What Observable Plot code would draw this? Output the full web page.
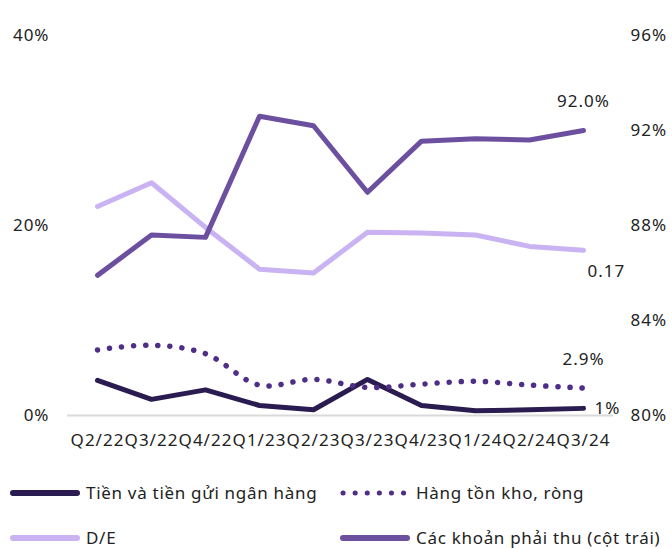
<!DOCTYPE html>
<html>
<head>
<meta charset="utf-8">
<script src="https://cdn.jsdelivr.net/npm/d3@7"></script>
<script src="https://cdn.jsdelivr.net/npm/@observablehq/plot@0.6"></script>
<style>
  html, body { margin: 0; padding: 0; background: #fff; }
  #wrap { position: relative; width: 672px; height: 549px; overflow: hidden; font-family: "Noto Sans", sans-serif; color: #222; }
  .leg { position: absolute; display: flex; align-items: center; font-size: 17px; line-height: 18px; letter-spacing: 0.7px; white-space: nowrap; }
  .leg svg { margin-right: 4px; }
</style>
</head>
<body>
<div id="wrap"></div>
<script>
const quarters = ["Q2/22","Q3/22","Q4/22","Q1/23","Q2/23","Q3/23","Q4/23","Q1/24","Q2/24","Q3/24"];
const cash = [3.7, 1.7, 2.7, 1.05, 0.6, 3.8, 1.05, 0.5, 0.6, 0.75];
const inventory = [6.9, 7.4, 6.5, 3.2, 3.8, 2.95, 3.3, 3.6, 3.2, 2.9];
const debtToEquity = [0.22, 0.245, 0.198, 0.154, 0.15, 0.193, 0.192, 0.19, 0.178, 0.174];
const receivables = [85.9, 87.6, 87.5, 92.6, 92.2, 89.4, 91.55, 91.65, 91.6, 92.0];
const leftTicks = [0, 20, 40];
const rightTicks = [80, 84, 88, 92, 96];
const seriesNames = ["Tiền và tiền gửi ngân hàng", "Hàng tồn kho, ròng", "D/E", "Các khoản phải thu (cột trái)"];
const labels = { receivables: "92.0%", de: "0.17", inventory: "2.9%", cash: "1%" };

const colors = { cash: "#2a1b50", inventory: "#4f2e88", de: "#c9b3f2", receivables: "#6c509f" };

const rows = quarters.map((q, i) => ({
  q, cash: cash[i], inventory: inventory[i], de: debtToEquity[i] * 100, rec: (receivables[i] - 80) * 2.5
}));
const last = [rows[rows.length - 1]];

const chart = Plot.plot({
  width: 672,
  height: 460,
  marginTop: 35,
  marginBottom: 45,
  marginLeft: 67,
  marginRight: 59,
  style: { fontSize: "17px", fontFamily: "Noto Sans, sans-serif", color: "#222", background: "#fff", letterSpacing: "1px" },
  x: { type: "point", domain: quarters, padding: 0.5 },
  y: { domain: [0, 40] },
  marks: [
    Plot.ruleY([0], { stroke: "#d9d9d9", strokeWidth: 2 }),
    Plot.axisY(leftTicks, { anchor: "left", tickSize: 0, tickPadding: 18, tickFormat: d => d + "%", label: null }),
    Plot.axisY(rightTicks.map(v => (v - 80) * 2.5), { anchor: "right", tickSize: 0, tickPadding: 17, tickFormat: d => Math.round(80 + d / 2.5) + "%", label: null }),
    Plot.axisX({ tickSize: 0, tickPadding: 18, label: null }),
    Plot.lineY(rows, { x: "q", y: "de", stroke: colors.de, strokeWidth: 5, strokeLinecap: "round" }),
    Plot.lineY(rows, { x: "q", y: "rec", stroke: colors.receivables, strokeWidth: 5, strokeLinecap: "round" }),
    Plot.lineY(rows, { x: "q", y: "cash", stroke: colors.cash, strokeWidth: 5, strokeLinecap: "round" }),
    Plot.lineY(rows, { x: "q", y: "inventory", stroke: colors.inventory, strokeWidth: 5.5, strokeLinecap: "round", strokeDasharray: "0.1 12", curve: "catmull-rom" }),
    Plot.text(last, { x: "q", y: "rec", text: () => labels.receivables, dy: -29 }),
    Plot.text(last, { x: "q", y: "de", text: () => labels.de, dy: 21, dx: 4, textAnchor: "start" }),
    Plot.text(last, { x: "q", y: "inventory", text: () => labels.inventory, dy: -28 }),
    Plot.text(last, { x: "q", y: "cash", text: () => labels.cash, dx: 11, textAnchor: "start" })
  ]
});

const wrap = document.getElementById("wrap");
wrap.appendChild(chart);

const legendItems = [
  { name: seriesNames[0], color: colors.cash, dotted: false, x: 8, y: 493 },
  { name: seriesNames[1], color: colors.inventory, dotted: true, x: 338, y: 493 },
  { name: seriesNames[2], color: colors.de, dotted: false, x: 8, y: 538 },
  { name: seriesNames[3], color: colors.receivables, dotted: false, x: 338, y: 538 }
];
for (const it of legendItems) {
  const div = document.createElement("div");
  div.className = "leg";
  div.style.left = it.x + "px";
  div.style.top = (it.y - 9) + "px";
  div.style.height = "18px";
  const dash = it.dotted ? 'stroke-dasharray="0.1 12"' : "";
  div.innerHTML = `<svg width="74" height="12"><line x1="5" x2="${it.dotted ? 67 : 69}" y1="6" y2="6" stroke="${it.color}" stroke-width="${it.dotted ? 5 : 6}" stroke-linecap="round" ${dash}></line></svg><span>${it.name}</span>`;
  wrap.appendChild(div);
}
</script>
</body>
</html>
